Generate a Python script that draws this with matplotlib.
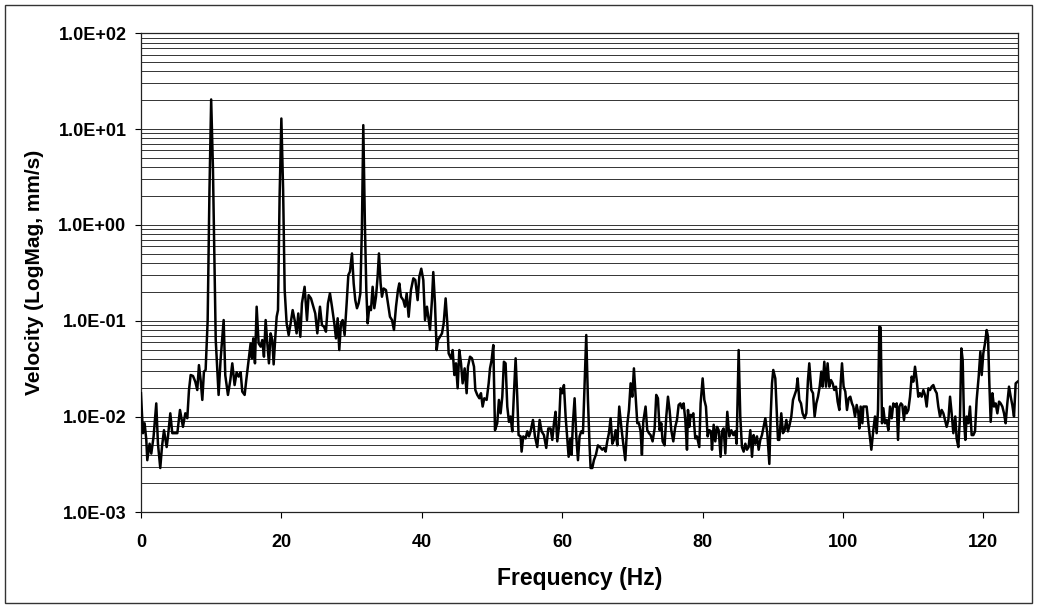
import matplotlib
matplotlib.use('Agg')
import matplotlib.pyplot as plt
from matplotlib.ticker import LogLocator, FixedLocator, NullFormatter
from matplotlib.patches import Rectangle

plt.rcParams['font.family'] = ['Liberation Sans', 'DejaVu Sans']
plt.rcParams['font.weight'] = 'bold'

# frequency (Hz) and velocity (mm/s)
freq = [0.00, 0.28, 0.52, 0.76, 0.90, 1.23, 1.47, 1.80, 2.18, 2.42, 2.75, 2.99, 3.28, 3.66, 3.85,
        4.18, 4.46, 4.80, 5.18, 5.56, 5.98, 6.32, 6.60, 6.84, 7.08, 7.41, 7.74, 8.02, 8.26, 8.50,
        8.74, 8.97, 9.21, 9.50, 9.75, 10.00, 10.25, 10.50, 10.65, 11.06, 11.35, 11.78, 12.01, 12.39,
        12.73, 13.01, 13.34, 13.63, 13.91, 14.20, 14.43, 14.77, 15.00, 15.34, 15.62, 15.81, 16.00,
        16.24, 16.48, 16.76, 17.05, 17.28, 17.52, 17.76, 18.00, 18.23, 18.47, 18.71, 18.90, 19.14,
        19.33, 19.52, 19.75, 20.00, 20.25, 20.47, 20.75, 21.04, 21.32, 21.61, 21.89, 22.17, 22.41,
        22.70, 22.93, 23.31, 23.65, 23.88, 24.22, 24.55, 24.83, 25.12, 25.50, 25.78, 26.07, 26.35,
        26.64, 26.92, 27.21, 27.54, 27.78, 28.02, 28.25, 28.49, 28.73, 29.01, 29.30, 29.54, 29.77,
        30.06, 30.30, 30.53, 30.77, 31.01, 31.25, 31.48, 31.67, 31.90, 32.10, 32.29, 32.53, 32.76,
        33.00, 33.24, 33.48, 33.71, 33.90, 34.14, 34.33, 34.57, 34.90, 35.19, 35.47, 35.76, 36.04,
        36.33, 36.61, 36.80, 37.04, 37.37, 37.61, 37.85, 38.13, 38.46, 38.80, 39.08, 39.41, 39.65,
        39.93, 40.22, 40.46, 40.74, 40.98, 41.17, 41.45, 41.64, 41.88, 42.12, 42.31, 42.59, 42.88,
        43.12, 43.40, 43.64, 43.83, 44.16, 44.40, 44.64, 44.87, 45.11, 45.35, 45.59, 45.82, 46.11,
        46.39, 46.58, 46.87, 47.15, 47.44, 47.63, 47.91, 48.20, 48.43, 48.67, 48.91, 49.24, 49.53,
        49.72, 49.95, 50.19, 50.43, 50.75, 50.99, 51.23, 51.47, 51.70, 51.94, 52.18, 52.42, 52.65,
        52.89, 53.13, 53.37, 53.60, 53.79, 54.08, 54.22, 54.46, 54.79, 55.03, 55.27, 55.50, 55.84,
        56.12, 56.45, 56.79, 57.07, 57.40, 57.73, 58.02, 58.35, 58.59, 58.83, 59.06, 59.30, 59.54,
        59.78, 60.01, 60.25, 60.49, 60.73, 60.92, 61.15, 61.34, 61.53, 61.77, 62.01, 62.25, 62.48,
        62.72, 62.96, 63.20, 63.43, 63.67, 63.91, 64.05, 64.29, 64.52, 64.81, 65.09, 65.38, 65.71,
        65.95, 66.19, 66.42, 66.66, 66.90, 67.14, 67.37, 67.61, 67.85, 68.13, 68.42, 68.70, 68.99,
        69.27, 69.51, 69.75, 69.99, 70.22, 70.46, 70.70, 70.94, 71.17, 71.36, 71.55, 71.88, 72.12,
        72.36, 72.60, 72.88, 73.17, 73.40, 73.64, 73.88, 74.12, 74.31, 74.59, 74.83, 75.07, 75.30,
        75.54, 75.83, 76.11, 76.35, 76.59, 76.83, 77.06, 77.30, 77.54, 77.78, 77.92, 78.11, 78.30,
        78.49, 78.68, 78.96, 79.20, 79.53, 79.72, 80.01, 80.25, 80.48, 80.72, 80.96, 81.20, 81.34,
        81.58, 81.81, 82.05, 82.29, 82.57, 82.76, 83.00, 83.24, 83.52, 83.81, 84.09, 84.38, 84.66,
        84.85, 85.14, 85.37, 85.61, 85.85, 86.09, 86.32, 86.56, 86.80, 87.04, 87.27, 87.51, 87.75,
        87.99, 88.22, 88.46, 88.70, 88.94, 89.22, 89.51, 89.70, 89.89, 90.07, 90.36, 90.55, 90.74,
        90.93, 91.21, 91.45, 91.69, 91.93, 92.16, 92.40, 92.64, 92.88, 93.11, 93.35, 93.54, 93.78,
        94.02, 94.25, 94.54, 94.78, 95.01, 95.20, 95.49, 95.73, 95.96, 96.20, 96.44, 96.68, 96.91,
        97.10, 97.34, 97.58, 97.81, 98.05, 98.29, 98.53, 98.76, 99.00, 99.24, 99.48, 99.67, 99.86,
        100.09, 100.33, 100.57, 100.81, 101.04, 101.28, 101.47, 101.71, 101.95, 102.19, 102.33,
        102.52, 102.76, 102.90, 103.14, 103.37, 103.61, 103.85, 104.04, 104.32, 104.56, 104.80,
        104.99, 105.18, 105.37, 105.56, 105.75, 105.99, 106.22, 106.46, 106.70, 106.94, 107.17,
        107.41, 107.65, 107.84, 108.03, 108.26, 108.45, 108.69, 108.88, 109.07, 109.31, 109.55,
        109.78, 110.02, 110.26, 110.50, 110.73, 110.97, 111.21, 111.45, 111.68, 111.92, 112.16,
        112.40, 112.63, 112.87, 113.11, 113.35, 113.58, 113.82, 114.06, 114.30, 114.53, 114.77,
        115.01, 115.25, 115.48, 115.72, 116.00, 116.19, 116.43, 116.67, 116.86, 117.05, 117.24,
        117.43, 117.62, 117.86, 118.09, 118.33, 118.57, 118.81, 119.04, 119.33, 119.57, 119.76,
        119.99, 120.23, 120.47, 120.66, 120.85, 121.04, 121.28, 121.51, 121.75, 121.99, 122.23,
        122.46, 122.70, 122.94, 123.17, 123.41, 123.65, 123.89, 124.12, 124.36, 124.60, 124.88]

vel = [0.0175, 0.0067, 0.0085, 0.0057, 0.0035, 0.0052, 0.0041, 0.0062, 0.0137, 0.0052, 0.0029, 0.0048,
       0.0072, 0.0048, 0.0062, 0.0108, 0.0067, 0.0067, 0.0067, 0.0117, 0.0078, 0.0108, 0.0096, 0.0189,
       0.0271, 0.0265, 0.0231, 0.0189, 0.0344, 0.0240, 0.0149, 0.0294, 0.0306, 0.1, 2.1, 20.4, 4.0,
       0.3, 0.063, 0.0168, 0.040, 0.1016, 0.027, 0.0168, 0.024, 0.0359, 0.0213, 0.029, 0.0261, 0.029,
       0.0182, 0.0168, 0.024, 0.0389, 0.058, 0.0405, 0.0654, 0.0359, 0.140, 0.058, 0.0536, 0.0628,
       0.0421, 0.1016, 0.058, 0.0359, 0.0738, 0.0628, 0.035, 0.068, 0.110, 0.129, 2.0, 12.9, 2.3,
       0.209, 0.0938, 0.0709, 0.0938, 0.129, 0.1016, 0.0738, 0.119, 0.068, 0.152, 0.226, 0.1016,
       0.185, 0.171, 0.140, 0.119, 0.0738, 0.140, 0.090, 0.0866, 0.0768, 0.152, 0.193, 0.140, 0.0938,
       0.0654, 0.106, 0.0494, 0.0938, 0.1016, 0.0709, 0.152, 0.300, 0.325, 0.504, 0.245, 0.164,
       0.135, 0.152, 0.193, 1.0, 11.0, 1.0, 0.209, 0.0938, 0.140, 0.129, 0.226, 0.135, 0.178, 0.288,
       0.504, 0.245, 0.178, 0.217, 0.209, 0.152, 0.110, 0.1016, 0.080, 0.140, 0.209, 0.245, 0.178,
       0.164, 0.140, 0.193, 0.110, 0.209, 0.277, 0.266, 0.164, 0.288, 0.349, 0.266, 0.1016, 0.140,
       0.1016, 0.080, 0.164, 0.322, 0.152, 0.0494, 0.0628, 0.068, 0.0738, 0.0938, 0.171, 0.0938,
       0.0456, 0.0405, 0.0494, 0.0271, 0.0359, 0.0197, 0.0494, 0.0359, 0.0222, 0.0318, 0.0175, 0.0331,
       0.0421, 0.0405, 0.0331, 0.0189, 0.0168, 0.0155, 0.0175, 0.0127, 0.0155, 0.0149, 0.0222, 0.0318,
       0.0389, 0.0557, 0.0072, 0.0085, 0.0149, 0.0108, 0.0161, 0.0373, 0.0359, 0.0127, 0.0088, 0.0100,
       0.0070, 0.0175, 0.0405, 0.0161, 0.0064, 0.0062, 0.0043, 0.0062, 0.0059, 0.0070, 0.0062, 0.0070,
       0.0092, 0.0062, 0.0048, 0.0092, 0.0070, 0.0064, 0.0047, 0.0075, 0.0075, 0.0057, 0.0085, 0.0112,
       0.0055, 0.0078, 0.0197, 0.0175, 0.0213, 0.0100, 0.0059, 0.0038, 0.0059, 0.0040, 0.0085, 0.0155,
       0.0062, 0.0035, 0.0062, 0.0070, 0.0067, 0.0222, 0.0709, 0.0149, 0.0048, 0.0029, 0.0029, 0.0035,
       0.0040, 0.0050, 0.0048, 0.0045, 0.0047, 0.0043, 0.0055, 0.0067, 0.0096, 0.0052, 0.0057, 0.0072,
       0.0050, 0.0127, 0.0078, 0.0052, 0.0035, 0.0082, 0.0117, 0.0222, 0.0161, 0.0318, 0.0161, 0.0085,
       0.0085, 0.0070, 0.0040, 0.0088, 0.0127, 0.0072, 0.0067, 0.0064, 0.0055, 0.0075, 0.0168, 0.0155,
       0.0072, 0.0085, 0.0055, 0.0050, 0.0100, 0.0161, 0.0117, 0.0072, 0.0055, 0.0078, 0.0092, 0.0132,
       0.0137, 0.0122, 0.0137, 0.0092, 0.0045, 0.0117, 0.0078, 0.0104, 0.0100, 0.0108, 0.0059, 0.0062,
       0.0048, 0.0137, 0.0250, 0.0149, 0.0127, 0.0062, 0.0072, 0.0070, 0.0045, 0.0082, 0.0055, 0.0078,
       0.0072, 0.0038, 0.0070, 0.0075, 0.0041, 0.0112, 0.0062, 0.0072, 0.0064, 0.0070, 0.0052, 0.0494,
       0.0100, 0.0048, 0.0043, 0.0052, 0.0045, 0.0048, 0.0072, 0.0038, 0.0064, 0.0052, 0.0062, 0.0045,
       0.0057, 0.0064, 0.0078, 0.0096, 0.0067, 0.0032, 0.0100, 0.0222, 0.0306, 0.0250, 0.0117, 0.0057,
       0.0057, 0.0108, 0.0067, 0.0072, 0.0092, 0.0070, 0.0082, 0.0100, 0.0149, 0.0168, 0.0189, 0.0250,
       0.0149, 0.0137, 0.0108, 0.0096, 0.0108, 0.0240, 0.0359, 0.0189, 0.0175, 0.0100, 0.0137, 0.0161,
       0.0205, 0.0294, 0.0205, 0.0373, 0.0205, 0.0359, 0.0205, 0.0240, 0.0222, 0.0189, 0.0205, 0.0143,
       0.0117, 0.0222, 0.0359, 0.0205, 0.0182, 0.0117, 0.0155, 0.0161, 0.0137, 0.0127, 0.0100, 0.0132,
       0.0108, 0.0075, 0.0127, 0.0085, 0.0127, 0.0127, 0.0127, 0.0085, 0.0059, 0.0045, 0.0072, 0.0100,
       0.0067, 0.0117, 0.0866, 0.0850, 0.0085, 0.0122, 0.0085, 0.0092, 0.0072, 0.0127, 0.0096, 0.0137,
       0.0127, 0.0137, 0.0057, 0.0127, 0.0137, 0.0132, 0.0092, 0.0127, 0.0108, 0.0117, 0.0161, 0.0261,
       0.0231, 0.0331, 0.0240, 0.0161, 0.0175, 0.0161, 0.0189, 0.0168, 0.0127, 0.0197, 0.0189, 0.0205,
       0.0213, 0.0189, 0.0175, 0.0127, 0.0100, 0.0117, 0.0108, 0.0092, 0.0078, 0.0092, 0.0161, 0.0108,
       0.0067, 0.0100, 0.0059, 0.0048, 0.0100, 0.0514, 0.0389, 0.0092, 0.0057, 0.0100, 0.0085, 0.0127,
       0.0064, 0.0064, 0.0070, 0.0149, 0.0261, 0.0475, 0.0271, 0.0456, 0.058, 0.0799, 0.068, 0.0222,
       0.0088, 0.0175, 0.0127, 0.0137, 0.0108, 0.0143, 0.0137, 0.0127, 0.0108, 0.0085, 0.0137, 0.0205,
       0.0161, 0.0132, 0.0100, 0.0222, 0.0231]

xticks = [0, 20, 40, 60, 80, 100, 120]
ytick_labels = ['1.0E-03', '1.0E-02', '1.0E-01', '1.0E+00', '1.0E+01', '1.0E+02']

fig = plt.figure(figsize=(10.38, 6.08), dpi=100)
ax = fig.add_axes([0.1358, 0.1574, 0.8454, 0.7878])

ax.plot(freq, vel, color='black', lw=1.8, zorder=3)

ax.set_yscale('log')
ax.set_ylim(1e-3, 1e2)
ax.set_xlim(0, 125)
ax.set_xticks(xticks)
ax.set_xticklabels([str(t) for t in xticks], fontsize=13, fontweight='bold')
ax.yaxis.set_major_locator(FixedLocator([1e-3, 1e-2, 1e-1, 1e0, 1e1, 1e2]))
ax.set_yticklabels(ytick_labels, fontsize=13, fontweight='bold')
ax.yaxis.set_minor_locator(LogLocator(base=10, subs=range(2, 10), numticks=20))
ax.yaxis.set_minor_formatter(NullFormatter())
ax.tick_params(axis='y', which='minor', length=0)
ax.tick_params(axis='both', which='major', length=4.5, width=0.8, direction='out')
ax.tick_params(axis='x', pad=11)
ax.tick_params(axis='y', pad=6)
ax.grid(True, axis='y', which='both', color='#333333', lw=0.7)
ax.set_axisbelow(True)

for sp in ax.spines.values():
    sp.set_color('#222222')
    sp.set_linewidth(0.9)

ax.set_xlabel('Frequency (Hz)', fontsize=16.5, fontweight='bold', labelpad=12)
ax.set_ylabel('Velocity (LogMag, mm/s)', fontsize=15, fontweight='bold', labelpad=10)

# outer chart border
fig.patches.append(Rectangle((5 / 1038, 5 / 608), 1027 / 1038, 598 / 608, transform=fig.transFigure,
                             fill=False, edgecolor='#333333', lw=1.0))

fig.savefig('out.png', dpi=100)
